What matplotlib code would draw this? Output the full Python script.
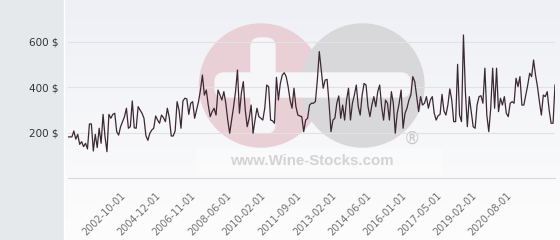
import numpy as np
import matplotlib
matplotlib.use("Agg")
import matplotlib.pyplot as plt
from matplotlib.colors import LinearSegmentedColormap
from matplotlib.patches import Circle, FancyBboxPatch, Rectangle

# prices, left to right
prices_early = [182, 182, 182, 208, 172, 193, 149, 161, 139, 154, 129,
                239, 239, 120, 193, 135, 220, 154, 281, 183, 117,
                281, 264, 281, 286, 205, 190, 227, 249, 271, 308,
                220, 227, 340, 222, 220, 315, 300, 286, 264, 187,
                167, 198, 212, 220, 274, 256, 242, 278, 267, 249,
                308, 267, 186, 186, 208, 337, 300, 220, 340, 352,
                349, 281, 330, 337, 264, 300, 337, 388, 454]
prices_middle = [366, 388, 322, 271, 293, 308, 278, 388, 366, 344,
                 381, 330, 256, 198, 256, 315, 381, 476, 286, 374,
                 425, 300, 227, 264, 322, 198, 256, 308, 271, 264,
                 256, 308, 410, 403, 256, 253, 242, 444, 344, 417,
                 454, 464, 447, 403, 344, 308, 396, 315, 278, 274,
                 271, 205, 256, 264, 322, 330, 330, 337, 432, 557,
                 476, 396, 432, 435, 330, 205, 256, 264, 330, 362,
                 264, 322, 256, 344, 396, 256, 330, 366, 410, 315,
                 278, 366, 417, 410, 315, 271, 322, 359, 315, 381,
                 410, 315, 256, 344, 330, 256, 381, 330, 198, 286,
                 330, 388, 220, 286, 308, 344, 366, 447, 425, 359,
                 293, 359, 322, 330, 359, 308, 344, 359]
prices_late = [286, 256, 275, 281, 369, 296, 278, 322, 393, 344,
               249, 249, 501, 278, 249, 630, 381, 227, 359, 293,
               227, 220, 322, 359, 363, 330, 484, 278, 205, 308,
               484, 308, 484, 293, 352, 322, 359, 286, 271, 330,
               337, 330, 440, 403, 447, 322, 322, 366, 410, 462,
               447, 520, 454, 403, 337, 278, 366, 359, 381, 300,
               242, 242, 410]

tick_labels = ['2002-10-01', '2004-12-01', '2006-11-01', '2008-06-01',
               '2010-02-01', '2011-09-01', '2013-02-01', '2014-06-01',
               '2016-01-01', '2017-05-01', '2019-02-01', '2020-08-01']
y_ticks = [200, 400, 600]

prices = prices_early + prices_middle + prices_late
n = len(prices)
tick_start, tick_step = 27, 18

W, H = 560, 240
fig = plt.figure(figsize=(W / 100, H / 100), dpi=100)

# backdrop in pixel coordinates: sidebar, gradient, watermark
bg = fig.add_axes([0, 0, 1, 1], zorder=0)
bg.set_xlim(0, W)
bg.set_ylim(H, 0)
bg.axis('off')
cmap = LinearSegmentedColormap.from_list('bg', ['#eff0f5', '#fdfdfd'])
bg.imshow(np.linspace(0, 1, 100)[:, None], cmap=cmap, aspect='auto',
          extent=(63, W, H, 0), zorder=0)
bg.add_patch(Rectangle((0, 0), 63, H, color='#e6e9ec', zorder=1))
bg.plot([63.5, 63.5], [0, H], color='white', lw=1, zorder=2)

bg.add_patch(Circle((261, 85.5), 61.5, color='#e9cfd6', zorder=2))
bg.add_patch(Circle((362.5, 85.5), 61.5, color='#d8d8da', zorder=3))
hole = '#f6f6f9'
bg.add_patch(FancyBboxPatch((251, 38), 24, 95, boxstyle='round,pad=0,rounding_size=9',
                            color=hole, zorder=4))
bg.add_patch(FancyBboxPatch((215, 73), 195, 24, boxstyle='round,pad=0,rounding_size=9',
                            color=hole, zorder=4))
bg.add_patch(Rectangle((196, 149), 245, 25, color='white', alpha=0.35, zorder=4))
bg.text(312, 161, 'www.Wine-Stocks.com', family='Liberation Sans', weight='bold',
        fontsize=10.8, color='#d3d3d3', ha='center', va='center', zorder=5)
bg.text(412, 139, '\u00ae', fontsize=12, color='#c8c8c8', ha='center', va='center', zorder=5)

# chart
ax = fig.add_axes([68 / W, (H - 178.3) / H, 487 / W, 170.6 / H], zorder=1)
ax.patch.set_visible(False)
ax.plot(range(n), prices, color='#3b2832', lw=0.9)
ax.set_xlim(0, n - 1)
ax.set_ylim(0, 750)

ax.set_yticks(y_ticks, [f'{v} $' for v in y_ticks])
ax.yaxis.grid(True, color='#e2e2e2', lw=0.8)
ax.set_axisbelow(True)
ax.tick_params(axis='y', length=0, pad=6.5, labelsize=7.5, labelcolor='#333333')

ticks = [tick_start + i * tick_step for i in range(len(tick_labels))]
ax.set_xticks(ticks, tick_labels, rotation=45, ha='right', rotation_mode='anchor')
ax.tick_params(axis='x', length=0, pad=9, labelsize=7, labelcolor='#707070')

for side in ['top', 'right', 'left']:
    ax.spines[side].set_visible(False)
ax.spines['bottom'].set_color('#d9d9d9')
ax.spines['bottom'].set_linewidth(0.8)

fig.savefig('out.png', dpi=100)
